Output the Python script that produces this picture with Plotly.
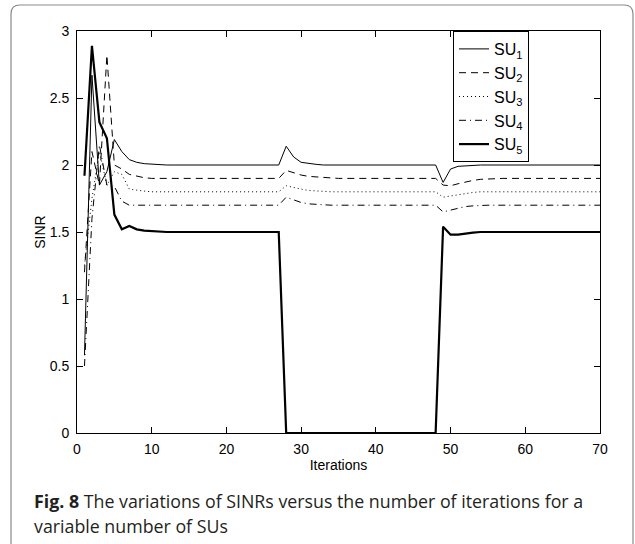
import plotly.graph_objects as go

# Iteration index and SINR of each secondary user
iterations = list(range(1, 71))

su1 = ([0.58, 2.67, 1.85, 1.95, 2.19, 2.10, 2.04, 2.02, 2.01, 2.005]
       + [2.0] * 17
       + [2.14, 2.06, 2.02, 2.01, 2.005]
       + [2.0] * 16
       + [1.87, 1.97, 1.99, 1.995]
       + [2.0] * 18)
su2 = ([1.20, 2.10, 1.85, 2.82, 2.00, 1.97, 1.93, 1.915, 1.905, 1.90]
       + [1.9] * 17
       + [1.96, 1.94, 1.925, 1.915, 1.91, 1.905]
       + [1.9] * 15
       + [1.85, 1.845, 1.86, 1.875, 1.885, 1.893, 1.897]
       + [1.9] * 15)
su3 = ([1.25, 1.75, 2.10, 1.85, 1.95, 1.93, 1.82, 1.81, 1.805, 1.80]
       + [1.8] * 17
       + [1.845, 1.83, 1.82, 1.81, 1.805]
       + [1.8] * 16
       + [1.76, 1.77, 1.78, 1.79, 1.795]
       + [1.8] * 17)
su4 = ([0.50, 1.60, 2.15, 1.85, 1.84, 1.73, 1.70, 1.70, 1.70, 1.70]
       + [1.7] * 17
       + [1.76, 1.74, 1.72, 1.71, 1.705]
       + [1.7] * 16
       + [1.65, 1.665, 1.68, 1.69, 1.695]
       + [1.7] * 17)
su5 = ([1.92, 2.89, 2.32, 2.20, 1.63, 1.52, 1.545, 1.52, 1.51, 1.505]
       + [1.5] * 17
       + [0.0] * 21
       + [1.54, 1.48, 1.48, 1.49, 1.495]
       + [1.5] * 17)

series = [
    ("SU<sub>1</sub>", su1, "solid", 1.0),
    ("SU<sub>2</sub>", su2, "7px,5px", 1.0),
    ("SU<sub>3</sub>", su3, "1px,3px", 1.0),
    ("SU<sub>4</sub>", su4, "7px,4px,1px,4px", 1.0),
    ("SU<sub>5</sub>", su5, "solid", 2.2),
]

fig = go.Figure()
for i, (name, ys, dash, w) in enumerate(series):
    fig.add_trace(go.Scatter(
        x=iterations, y=ys, mode="lines", name=name,
        legendgroup=f"g{i}",
        line=dict(color="black", width=w, dash=dash),
    ))

# page geometry helpers (pixel -> paper)
L, R, T, B = 77, 600, 31, 433


def px(x):
    return (x - L) / (R - L)


def py(y):
    return (B - y) / (B - T)


tick_font = dict(family="Liberation Sans, Arial", size=14, color="black")
axis_common = dict(
    showline=True, linecolor="black", linewidth=1, mirror="ticks",
    ticks="inside", ticklen=6, tickcolor="black", tickwidth=1,
    showgrid=False, zeroline=False, tickfont=tick_font,
)

fig.update_xaxes(range=[0, 70], tickvals=list(range(0, 71, 10)),
                 ticklabelstandoff=3,
                 title=dict(text="Iterations", standoff=4, font=tick_font),
                 **axis_common)
fig.update_yaxes(range=[0, 3], tickvals=[0, 0.5, 1, 1.5, 2, 2.5, 3],
                 ticktext=["0", "0.5", "1", "1.5", "2", "2.5", "3"],
                 ticklabelstandoff=4,
                 title=dict(text="SINR", standoff=0, font=tick_font),
                 **axis_common)

# rounded frame around figure and caption
x0, x1, y0, y1, r = 11, 633, 5, 560, 9
frame = (f"M {px(x0)},{py(y1)} L {px(x0)},{py(y0 + r)} "
         f"Q {px(x0)},{py(y0)} {px(x0 + r)},{py(y0)} "
         f"L {px(x1 - r)},{py(y0)} "
         f"Q {px(x1)},{py(y0)} {px(x1)},{py(y0 + r)} "
         f"L {px(x1)},{py(y1)}")
fig.add_shape(type="path", path=frame, xref="paper", yref="paper",
              line=dict(color="#8a8a8a", width=1.2), layer="below")

cap_font = dict(family="Open Sans, Noto Sans", size=17.8, color="#231f20")
fig.add_annotation(text="<b>Fig. 8</b> The variations of SINRs versus the number of iterations for a",
                   xref="paper", yref="paper", x=px(32), y=py(501),
                   xanchor="left", yanchor="middle", showarrow=False, font=cap_font)
fig.add_annotation(text="variable number of SUs",
                   xref="paper", yref="paper", x=px(32), y=py(526),
                   xanchor="left", yanchor="middle", showarrow=False, font=cap_font)

fig.update_layout(
    width=635, height=544,
    margin=dict(l=L, r=635 - R, t=T, b=544 - B),
    paper_bgcolor="white", plot_bgcolor="white",
    showlegend=True,
    legend=dict(x=px(453), y=1.0, xanchor="left", yanchor="top",
                bordercolor="black", borderwidth=1, bgcolor="white",
                tracegroupgap=0, itemwidth=30,
                font=dict(family="Liberation Sans, Arial", size=16, color="black")),
)

fig.write_html("out.html")
